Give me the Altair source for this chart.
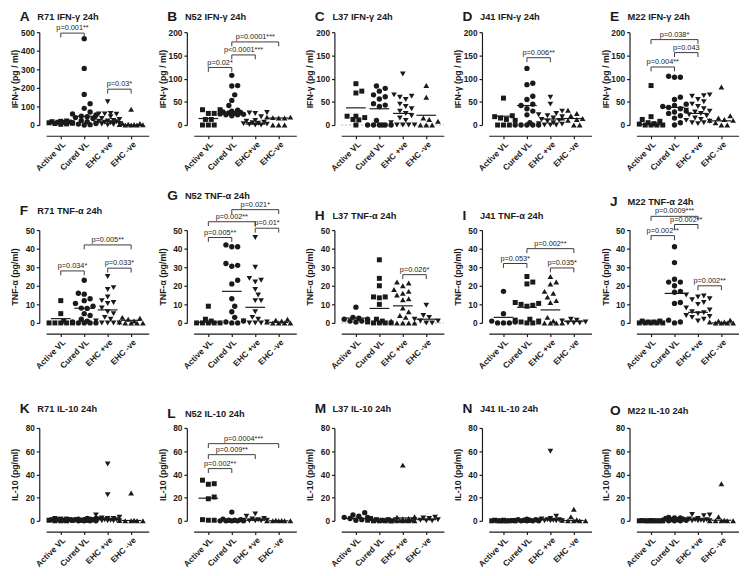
import altair as alt
import pandas as pd

# ---------------- data ----------------
LABELS_STD = ["Active VL", "Cured VL", "EHC +ve", "EHC -ve"]
LABELS_B = ["Active VL", "Cured VL", "EHC+ve", "EHC-ve"]
SHAPES_STD = ["square", "circle", "triangle-down", "triangle-up"]
SHAPES_ALT = ["circle", "square", "triangle-up", "triangle-down"]

# A  R71 IFN-g
a_active = [22, 20, 18, 16, 15, 14, 12, 10, 8, 6, 4]
a_cured = [465, 305, 165, 115, 90, 70, 60, 55, 48, 45, 40, 35, 25, 18, 12, 8, 5, 2, 0]
a_ehcpos = [125, 62, 60, 60, 58, 45, 40, 35, 30, 25, 22, 20, 18, 15, 12, 10, 8, 5, 3, 0]
a_ehcneg = [85, 10, 8, 5, 3, 2, 1, 0, 0, 0]
a_centre = [12, 47, 20, 0]
a_brackets = [(1, 2, 495, "p=0.001**"), (3, 4, 193, "p=0.03*")]

# B  N52 IFN-g
b_active = [33, 33, 25, 25, 12, 12, 0, 0, 0]
b_cured = [107, 85, 84, 65, 53, 42, 32, 30, 28, 27, 26, 25, 24, 23, 22, 22, 20]
b_ehcpos = [27, 26, 25, 18, 10, 8, 6, 5, 4, 3, 2, 1, 0, 0]
b_ehcneg = [17, 17, 16, 15, 15, 0, 0, 0]
b_centre = [14, 28, 2, 15]
b_brackets = [(1, 2, 124, "p=0.02*"), (2, 3, 151, "p<0.0001***"), (2, 4, 179, "p=0.0001***")]

# C  L37 IFN-g
c_active = [89, 73, 69, 19, 19, 16, 12, 11, 0]
c_cured = [84, 79, 73, 65, 61, 56, 46, 43, 40, 10, 0, 0, 0, 0, 0, 0]
c_ehcpos = [110, 65, 62, 60, 55, 45, 40, 35, 30, 25, 20, 15, 10, 5, 0, 0, 0, 0]
c_ehcneg = [85, 60, 15, 12, 8, 0, 0, 0]
c_centre = [37, 35, 25, 21]
c_brackets = []

# D  J41 IFN-g
d_active = [58, 20, 18, 15, 12, 10, 0, 0, 0]
d_cured = [122, 90, 87, 62, 55, 45, 42, 35, 30, 22, 5, 0, 0, 0, 0, 0]
d_ehcpos = [60, 45, 30, 25, 22, 20, 18, 15, 12, 10, 8, 5, 3, 2, 0, 0, 0]
d_ehcneg = [32, 25, 20, 15, 14, 12, 10, 0, 0]
d_centre = [19, 42, 13, 14]
d_brackets = [(2, 3, 145, "p=0.006**")]

# E  M22 IFN-g
e_active = [85, 18, 12, 8, 5, 3, 2, 0, 0, 0, 0]
e_cured = [105, 103, 103, 60, 55, 45, 42, 40, 38, 35, 30, 28, 25, 20, 15, 5, 0]
e_ehcpos = [65, 63, 62, 55, 50, 45, 40, 35, 32, 30, 28, 25, 22, 20, 15, 12, 10, 8, 5, 5, 3]
e_ehcneg = [82, 20, 15, 12, 10, 10, 5, 0, 0]
e_centre = [1, 38, 25, 9]
e_brackets = [(1, 2, 125, "p=0.004**"), (2, 3, 156, "p=0.043"), (1, 3, 184, "p=0.038*")]

# F  R71 TNF-a
f_active = [12, 5, 1, 0, 0, 0, 0, 0]
f_cured = [23, 16, 15.5, 13, 12, 10.5, 9, 8, 7.8, 5, 4, 2, 1, 0.5, 0, 0, 0, 0]
f_ehcpos = [25, 19, 18, 14, 12, 11, 10.5, 8, 6, 5, 3, 2, 1, 0, 0, 0, 0]
f_ehcneg = [3, 2.5, 2, 1, 0.5, 0, 0, 0, 0]
f_centre = [2.3, 7.9, 7, 1.4]
f_brackets = [(1, 2, 28, "p=0.034*"), (3, 4, 29.5, "p=0.033*"), (2, 4, 42, "p=0.005**")]

# G  N52 TNF-a
g_active = [9, 2, 1, 0, 0, 0, 0, 0]
g_cured = [42, 41, 41, 32, 31, 30.5, 23, 21, 13, 9, 6, 3, 1, 0.5, 0, 0]
g_ehcpos = [46, 30, 24, 23, 22, 18, 15, 12, 12, 6, 3, 2, 1, 0.5, 0, 0, 0]
g_ehcneg = [2, 1.5, 1, 0.5, 0, 0, 0, 0]
g_centre = [0.3, 17, 8.4, 0.3]
g_brackets = [(1, 2, 46, "p=0.005**"), (3, 4, 51, "p=0.01*"),
              (1, 3, 54.5, "p=0.002**"), (2, 4, 61, "p=0.021*")]

# H  L37 TNF-a
h_active = [8.5, 3, 2.5, 2, 2, 1, 1, 0.5]
h_cured = [34, 24, 20, 14, 14, 13.5, 10, 2, 1, 0.5, 0, 0, 0, 0]
h_ehcpos = [22, 21.5, 20, 18, 17, 16, 15, 13, 12.5, 8, 6, 4, 3, 1, 0, 0, 0, 0]
h_ehcneg = [9.5, 4, 3, 2, 1, 1, 0, 0]
h_centre = [2.6, 7.8, 9.2, 2]
h_brackets = [(3, 4, 26, "p=0.026*")]

# I  J41 TNF-a
i_active = [17, 5, 1, 0.5, 0, 0, 0]
i_cured = [25, 22, 21, 11, 10.5, 10, 9.5, 9, 2, 1.5, 1, 0.5, 0, 0]
i_ehcpos = [25, 22, 21, 17, 16, 14, 12, 11, 3, 1, 0.5, 0, 0, 0, 0]
i_ehcneg = [2, 1.5, 1, 0.5, 0, 0, 0]
i_centre = [3, 8.4, 7, 0.9]
i_brackets = [(1, 2, 32, "p=0.053*"), (3, 4, 29.6, "p=0.035*"), (2, 4, 40, "p=0.002**")]

# J  M22 TNF-a
j_active = [1, 1, 0.5, 0.5, 0, 0, 0, 0, 0]
j_cured = [41, 32.5, 23.5, 22, 22, 20, 17, 16.5, 11, 10.5, 1.5, 0.5, 0]
j_ehcpos = [15, 14.5, 14, 13, 12.5, 11, 10, 8, 7, 6, 5.5, 5, 4, 3.5, 3, 2, 1]
j_ehcneg = [1.5, 1, 0.5, 0.5, 0, 0, 0, 0]
j_centre = [0, 15.9, 5.7, 0]
j_brackets = [(1, 2, 47, "p=0.002**"), (3, 4, 20, "p=0.002**"),
              (2, 3, 53, "p=0.002**"), (1, 3, 57.4, "p=0.0009***")]

# K  R71 IL-10
k_active = [2, 1.5, 1.5, 1, 1, 1, 0.5, 0.5, 0.5, 0, 0, 0]
k_cured = [2, 2, 1.5, 1.5, 1, 1, 1, 0.5, 0.5, 0.5, 0, 0, 0, 0]
k_ehcpos = [49, 22.5, 5, 3, 2.5, 2, 2, 1.5, 1, 1, 0.5, 0.5, 0, 0, 0, 0]
k_ehcneg = [24, 0.5, 0.3, 0, 0, 0, 0]
k_centre = [0.5, 0.8, 1.5, 0.3]
k_brackets = []

# L  N52 IL-10
l_active = [35, 32, 31.5, 20.5, 19, 1, 0.5, 0.5]
l_cured = [7.5, 1.5, 1, 0.5, 0.5, 0, 0, 0, 0, 0]
l_ehcpos = [6, 4, 2, 1.5, 1, 0.5, 0.5, 0, 0, 0]
l_ehcneg = [0.5, 0.3, 0, 0, 0, 0, 0]
l_centre = [19.5, 0.3, 0.5, 0]
l_brackets = [(1, 2, 45, "p=0.002**"), (1, 3, 57, "p=0.009**"), (1, 4, 66.5, "p=0.0004***")]

# M  L37 IL-10
m_active = [7, 5, 4, 3, 3, 2, 1, 0.5]
m_cured = [2, 1, 1, 0.5, 0.5, 0, 0, 0, 0]
m_ehcpos = [48, 3.5, 3, 2, 1.5, 1, 1, 0.5, 0.5, 0, 0, 0, 0, 0]
m_ehcneg = [3, 2.5, 2, 1, 1, 0.5, 0, 0]
m_centre = [2, 0.5, 2.5, 1]
m_brackets = []

# N  J41 IL-10
n_active = [0.5, 0.5, 0.3, 0, 0, 0, 0, 0, 0, 0]
n_cured = [1.5, 1, 1, 0.5, 0.5, 0.3, 0, 0, 0, 0]
n_ehcpos = [60, 4, 2, 1.5, 1, 1, 0.5, 0.5, 0, 0, 0, 0]
n_ehcneg = [10, 3.5, 1, 0.5, 0, 0, 0, 0]
n_centre = [0.2, 0.4, 1, 0.3]
n_brackets = []

# O  M22 IL-10
o_active = [0.3, 0.2, 0, 0, 0, 0, 0, 0, 0, 0]
o_cured = [3, 2.5, 2.5, 2, 1.5, 1, 1, 0.5, 0.5, 0, 0, 0]
o_ehcpos = [5.5, 5, 4.5, 2, 1.5, 1, 1, 0.5, 0.5, 0, 0, 0, 0]
o_ehcneg = [32, 3.5, 0.5, 0, 0, 0, 0, 0]
o_centre = [0, 0.5, 1, 0.5]
o_brackets = []

IFN = "IFN-γ (pg / ml)"
TNF = "TNF-α (pg/ml)"
IL10 = "IL-10 (pg/ml)"

PANELS = [
    ("A", "R71 IFN-γ 24h", IFN, 500, 100, SHAPES_STD, LABELS_STD, [a_active, a_cured, a_ehcpos, a_ehcneg], a_centre, a_brackets, False, -15),
    ("B", "N52 IFN-γ 24h", IFN, 200, 50, SHAPES_STD, LABELS_B, [b_active, b_cured, b_ehcpos, b_ehcneg], b_centre, b_brackets, False, -15),
    ("C", "L37 IFN-γ 24h", IFN, 200, 50, SHAPES_STD, LABELS_STD, [c_active, c_cured, c_ehcpos, c_ehcneg], c_centre, c_brackets, True, -15),
    ("D", "J41 IFN-γ 24h", IFN, 200, 50, SHAPES_STD, LABELS_STD, [d_active, d_cured, d_ehcpos, d_ehcneg], d_centre, d_brackets, False, -15),
    ("E", "M22 IFN-γ 24h", IFN, 200, 50, SHAPES_STD, LABELS_STD, [e_active, e_cured, e_ehcpos, e_ehcneg], e_centre, e_brackets, False, -15),
    ("F", "R71 TNF-α 24h", TNF, 50, 10, SHAPES_STD, LABELS_STD, [f_active, f_cured, f_ehcpos, f_ehcneg], f_centre, f_brackets, False, -19),
    ("G", "N52 TNF-α 24h", TNF, 50, 10, SHAPES_STD, LABELS_STD, [g_active, g_cured, g_ehcpos, g_ehcneg], g_centre, g_brackets, False, -35),
    ("H", "L37 TNF-α 24h", TNF, 50, 10, SHAPES_ALT, LABELS_STD, [h_active, h_cured, h_ehcpos, h_ehcneg], h_centre, h_brackets, True, -14),
    ("I", "J41 TNF-α 24h", TNF, 50, 10, SHAPES_ALT, LABELS_STD, [i_active, i_cured, i_ehcpos, i_ehcneg], i_centre, i_brackets, False, -14),
    ("J", "M22 TNF-α 24h", TNF, 50, 10, SHAPES_STD, LABELS_STD, [j_active, j_cured, j_ehcpos, j_ehcneg], j_centre, j_brackets, False, -29),
    ("K", "R71 IL-10 24h", IL10, 80, 20, SHAPES_STD, LABELS_STD, [k_active, k_cured, k_ehcpos, k_ehcneg], k_centre, k_brackets, False, -19),
    ("L", "N52 IL-10 24h", IL10, 80, 20, SHAPES_STD, LABELS_STD, [l_active, l_cured, l_ehcpos, l_ehcneg], l_centre, l_brackets, False, -14),
    ("M", "L37 IL-10 24h", IL10, 80, 20, SHAPES_ALT, LABELS_STD, [m_active, m_cured, m_ehcpos, m_ehcneg], m_centre, m_brackets, False, -19),
    ("N", "J41 IL-10 24h", IL10, 80, 20, SHAPES_STD, LABELS_STD, [n_active, n_cured, n_ehcpos, n_ehcneg], n_centre, n_brackets, False, -19),
    ("O", "M22 IL-10 24h", IL10, 80, 20, SHAPES_STD, LABELS_STD, [o_active, o_cured, o_ehcpos, o_ehcneg], o_centre, o_brackets, False, -17),
]

# ---------------- layout ----------------
W, H = 105, 95
X_DOMAIN = [0.375, 4.75]
UNIT_PX = W / (X_DOMAIN[1] - X_DOMAIN[0])
FONT = "Liberation Sans"
INK = "#1a1a1a"
SIZES = {"square": 26, "circle": 30, "triangle-down": 34, "triangle-up": 34}


def swarm(values, ymax, d=6.0, step=3.0, max_off=12.0):
    """Prism-like horizontal spreading of points that would overlap (pixel space)."""
    cands = [0.0]
    k = 1
    while k * step <= max_off:
        cands += [k * step, -k * step]
        k += 1
    placed = []
    out = [0.0] * len(values)
    order = sorted(range(len(values)), key=lambda i: values[i])
    for i in order:
        y = values[i] * H / ymax
        best, best_d, best_alt = None, -1, 0.0
        for c in cands:
            md = min([((c - px) ** 2 + (y - py) ** 2) ** 0.5 for px, py in placed] or [99])
            if md >= d:
                best = c
                break
            if md > best_d:
                best_d, best_alt = md, c
        if best is None:
            best = best_alt
        placed.append((best, y))
        out[i] = best / UNIT_PX
    return out


def panel(p):
    letter, title, ytitle, ymax, ystep, shapes, labels, groups, centre, brackets, zero, tdy = p
    rows = []
    for gi, vals in enumerate(groups):
        for v, o in zip(vals, swarm(vals, ymax)):
            rows.append({"x": gi + 1 + o, "y": v, "shape": shapes[gi], "size": SIZES[shapes[gi]]})
    pts = pd.DataFrame(rows)

    xs = alt.Scale(domain=X_DOMAIN, nice=False, zero=False)
    ys = alt.Scale(domain=[0, ymax], nice=False, zero=False)
    label_expr = "[" + ",".join("'" + s + "'" for s in labels) + "][datum.value - 1]"
    xaxis = alt.Axis(values=[1, 2, 3, 4], labelExpr=label_expr, offset=11, labelAngle=315,
                     labelAlign="right", labelBaseline="top", labelOverlap=False,
                     labelBound=False, labelFlush=False,
                     tickSize=3, labelPadding=1, grid=False)
    yaxis = alt.Axis(values=list(range(0, ymax + 1, ystep)), offset=7, tickSize=3,
                     labelPadding=2, labelOverlap=False, labelFlush=False,
                     titleAngle=270, titleX=-20, titleY=H / 2,
                     titleBaseline="bottom", titleAlign="center", grid=False)

    def X(f):
        return alt.X(f, scale=xs, axis=xaxis, title=" ")

    def Y(f):
        return alt.Y(f, scale=ys, axis=yaxis, title=ytitle)

    layers = [alt.Chart(pts).mark_point(filled=True, opacity=1, color=INK, clip=False).encode(
        x=X("x:Q"), y=Y("y:Q"),
        shape=alt.Shape("shape:N", scale=None),
        size=alt.Size("size:Q", scale=None),
    )]

    if zero:
        layers.insert(0, alt.Chart(pd.DataFrame({"y": [0]})).mark_rule(
            color="#9a9a9a", strokeDash=[2, 2], strokeWidth=0.8).encode(
            y=Y("y:Q"), x=alt.value(0), x2=alt.value(W)))

    cen = pd.DataFrame({"g": [1, 2, 3, 4], "c": centre})
    layers.append(alt.Chart(cen).transform_calculate(
        x1="datum.g - 0.42", x2="datum.g + 0.42").mark_rule(color=INK, strokeWidth=1.2).encode(
        x=X("x1:Q"), x2="x2:Q", y=Y("c:Q")))

    if brackets:
        br = pd.DataFrame(brackets, columns=["i", "j", "lvl", "txt"])
        drop = 4.5 * ymax / H
        bb = alt.Chart(br).transform_calculate(
            mid="(datum.i + datum.j) / 2", low=f"datum.lvl - {drop}")
        rule = dict(color="#3a3a3a", strokeWidth=1, clip=False)
        layers.append(bb.mark_rule(**rule).encode(x=X("i:Q"), x2="j:Q", y=Y("lvl:Q")))
        layers.append(bb.mark_rule(**rule).encode(x=X("i:Q"), y=Y("lvl:Q"), y2="low:Q"))
        layers.append(bb.mark_rule(**rule).encode(x=X("j:Q"), y=Y("lvl:Q"), y2="low:Q"))
        layers.append(bb.mark_text(font=FONT, fontSize=7.5, color="#222222", baseline="bottom",
                                   dy=-1, clip=False).encode(
            x=X("mid:Q"), y=Y("lvl:Q"), text="txt:N"))

    tdf = pd.DataFrame({"letter": [letter], "title": [title]})
    layers.append(alt.Chart(tdf).mark_text(font=FONT, fontSize=14, fontWeight="bold", color=INK,
                                           align="left", baseline="middle").encode(
        x=alt.value(-27), y=alt.value(tdy), text="letter:N"))
    layers.append(alt.Chart(tdf).mark_text(font=FONT, fontSize=9.5, fontWeight="bold", color=INK,
                                           align="left", baseline="middle").encode(
        x=alt.value(-9), y=alt.value(tdy), text="title:N"))

    return alt.layer(*layers).properties(width=W, height=H)


chart = alt.concat(*[panel(p) for p in PANELS], columns=5,
                   spacing=alt.RowColnumber(row=107.5, column=46)).properties(
    bounds="flush", background="white",
    padding={"left": 3, "top": -4, "right": 0, "bottom": 0},
).configure_view(stroke=None).configure_axis(
    grid=False, domainColor=INK, tickColor=INK, labelColor=INK, titleColor=INK,
    domainWidth=1.2, tickWidth=1.2,
    labelFont=FONT, labelFontSize=8.5, labelFontWeight="bold",
    titleFont=FONT, titleFontSize=9, titleFontWeight="bold",
)

chart.save("out.html", embed_options={"renderer": "svg", "actions": False})
